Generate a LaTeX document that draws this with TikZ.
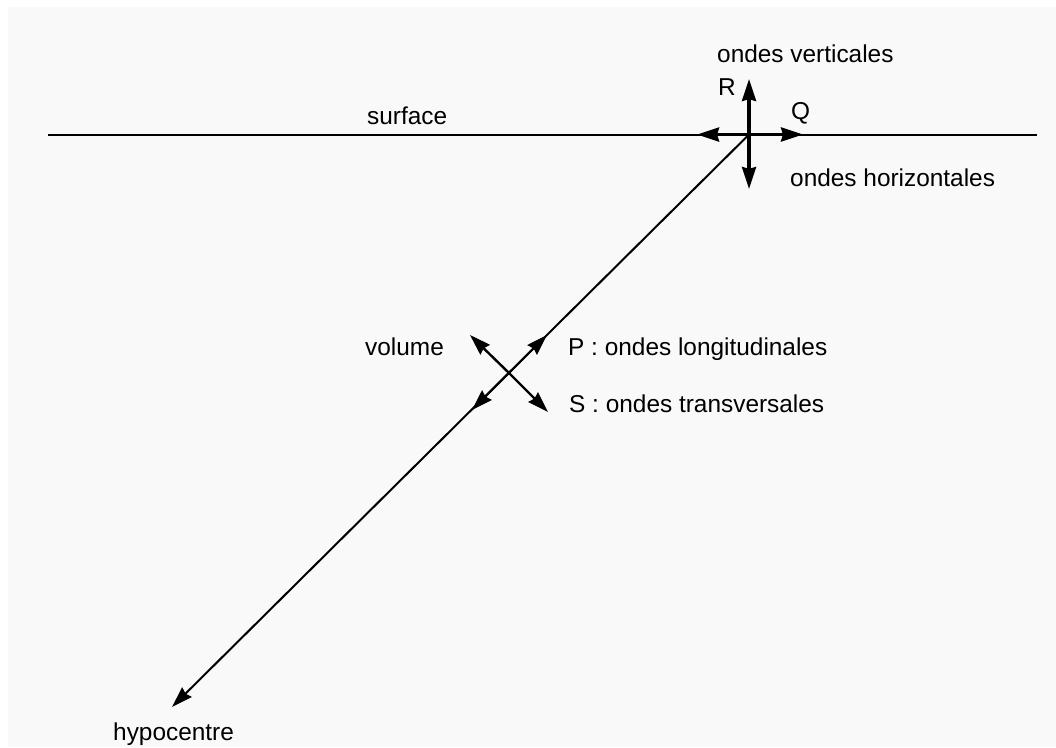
\documentclass[tikz,border=0pt]{standalone}
\usepackage{fontspec}
\setmainfont{Liberation Sans}
\usetikzlibrary{arrows.meta}
\definecolor{paper}{HTML}{F9F9F9}
\begin{document}
\begin{tikzpicture}[x=1pt,y=-1pt,
  lbl/.style={inner sep=0pt,anchor=base west,font=\fontsize{24.4}{29}\selectfont},
  thin line/.style={line width=2pt},
  bigtip/.style={-{Stealth[length=22pt,width=14pt,inset=2pt]}},
  smalltip/.style={-{Stealth[length=21pt,width=13.5pt,inset=2pt]}},
  cross/.style={line width=3.4pt,bigtip},
  shear/.style={line width=2.4pt,smalltip}]
  % page and background
  \useasboundingbox (0,0) rectangle (1056,747);
  \fill[white] (0,0) rectangle (1056,747);
  \fill[paper] (8,7) rectangle (1056,747);

  % key points
  \coordinate (sL) at (48,134.5);
  \coordinate (sR) at (1037,134.5);
  \coordinate (epi) at (749,134.5);
  \coordinate (hypo) at (172,707);
  \coordinate (mid) at (509,373);
  \coordinate (up) at (749,79);
  \coordinate (down) at (749,189);
  \coordinate (left) at (697,134.5);
  \coordinate (right) at (803,134.5);
  \coordinate (pUp) at (547,335);
  \coordinate (pDown) at (472,410);
  \coordinate (sUp) at (470,335);
  \coordinate (sDown) at (548,412);

  % surface and ray to the hypocentre
  \draw[thin line] (sL) -- (sR);
  \draw[thin line,smalltip] (epi) -- (hypo);

  % surface waves
  \draw[cross] (epi) -- (up);
  \draw[cross] (epi) -- (down);
  \draw[cross] (epi) -- (left);
  \draw[cross] (epi) -- (right);

  % body waves
  \draw[thin line,smalltip] (mid) -- (pUp);
  \draw[thin line,smalltip] (mid) -- (pDown);
  \draw[shear] (mid) -- (sUp);
  \draw[shear] (mid) -- (sDown);

  % labels
  \node[lbl] (surf) at (367,124) {surface};
  \node[lbl] (vert) at (717,62.5) {ondes verticales};
  \node[lbl] (R) at (718,95.5) {R};
  \node[lbl] (Q) at (791,119) {Q};
  \node[lbl] (horiz) at (790,186) {ondes horizontales};
  \node[lbl] (vol) at (365,355) {volume};
  \node[lbl] (P) at (568,355) {P : ondes longitudinales};
  \node[lbl] (S) at (569,412.5) {S : ondes transversales};
  \node[lbl] (hyp) at (113,740) {hypocentre};
\end{tikzpicture}
\end{document}
